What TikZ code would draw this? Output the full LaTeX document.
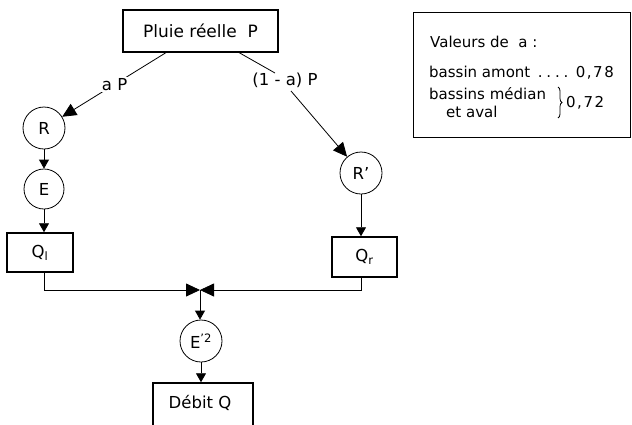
\documentclass[tikz,border=0pt]{standalone}
\usepackage{fontspec}
\setmainfont{DejaVu Sans}
\usetikzlibrary{arrows.meta,decorations.pathreplacing,calc}
\begin{document}
\begin{tikzpicture}[x=1pt,y=-1pt,
  box/.style={draw, line width=1.5pt, inner sep=0pt},
  circ/.style={draw, circle, line width=0.8pt, minimum size=42pt, inner sep=0pt},
  conn/.style={line width=0.8pt},
  arr/.style={conn, -{Triangle[length=9pt,width=10pt]}},
  bigarr/.style={conn, -{Triangle[length=14pt,width=13pt]}},
  txt/.style={font=\fontsize{16.5}{19}\selectfont},
  legtxt/.style={font=\fontsize{15}{17}\selectfont, inner sep=0pt},
  numtxt/.style={font=\fontsize{15}{17}\selectfont\addfontfeature{LetterSpace=10}, inner sep=0pt},
]
\useasboundingbox (0,0) rectangle (632,424);
\clip (0,0) rectangle (632,424);
% nodes
\node[box, minimum width=155pt, minimum height=42pt, font=\fontsize{17}{20}\selectfont] (top) at (200.5,31) {Pluie réelle\ \ P};
\coordinate (t1) at (167,52);
\coordinate (t2) at (238,52);
\node[circ, txt] (R) at (44,128) {R};
\node[circ, txt, minimum size=40pt] (E) at (44,189) {E};
\node[box, minimum width=66pt, minimum height=39pt, txt] (Ql) at (40,252.5) {Q\textsubscript{l}};
\node[circ, txt] (Rp) at (361,173) {R'};
\node[box, minimum width=65pt, minimum height=40pt, txt] (Qr) at (364.5,257) {Q\textsubscript{r}};
\coordinate (J) at (200,290);
\node[circ, txt] (E2) at (201,341) {E\textsuperscript{'2}};
\node[box, minimum width=100pt, minimum height=50pt] (D) at (203,408) {};
\node[txt] (Dt) at (200,403) {Débit Q};
% labels
\node[txt] (lab2) at (285,80) {(1 - a) P};
\coordinate (r1) at (275,73);
\coordinate (r2) at (291,91);
% legend
\node[box, line width=1.2pt, minimum width=217pt, minimum height=125pt, anchor=north west] (leg) at (413,12) {};
\node[legtxt, anchor=base west] (l1) at (430,47) {Valeurs de\ \ a\ :};
\node[legtxt, anchor=base west] (l2) at (429,77) {bassin amont};
\node[numtxt, anchor=base east] (l2n) at (614,77) {0,78};
\node[legtxt, anchor=base] (l2d) at ($(l2.base east)!0.5!(l2n.base west)$) {\addfontfeature{LetterSpace=25}....};
\node[legtxt, anchor=base west] (l3) at (429,99) {bassins médian};
\node[legtxt, anchor=base west] (l4) at (446,117) {et aval};
\node[numtxt, anchor=west] (l5) at (566,103) {0,72};
\draw[conn, decorate, decoration={brace, amplitude=4pt}] (558,87) -- (558,118);
% connectors
\draw[bigarr] (t1) -- node[pos=0.5, fill=white, txt, inner sep=1pt] (lab1) {a P} (R);
\draw[conn] (t2) -- (r1);
\draw[bigarr] (r2) -- (Rp);
\draw[arr] (R) -- (E);
\draw[arr] (E) -- (E.south |- Ql.north);
\draw[arr] (Rp) -- (Rp.south |- Qr.north);
\draw[bigarr] (E.south |- Ql.south) |- (J);
\draw[bigarr] (Rp.south |- Qr.south) |- (J);
\draw[arr] (J) -- (J |- E2.north);
\draw[arr] (E2) -- (E2.south |- D.north);
\end{tikzpicture}
\end{document}
